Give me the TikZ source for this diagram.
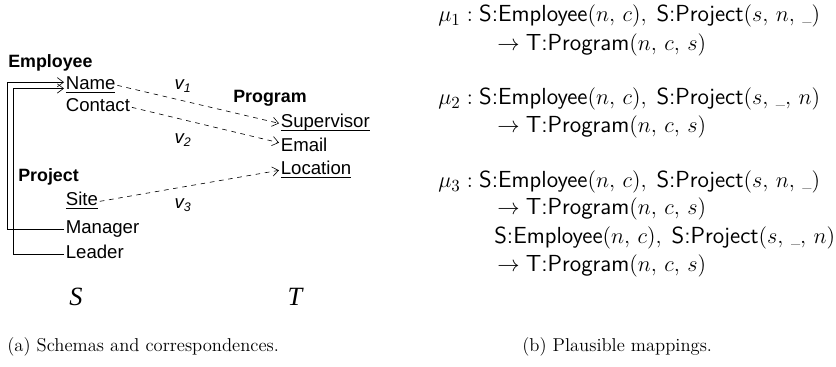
\documentclass[tikz,border=0pt]{standalone}
\usepackage{fontspec}
\usepackage{xcolor}
\usetikzlibrary{arrows.meta}
\newfontfamily\arialfont{Liberation Sans}
\newfontfamily\serifit{Liberation Serif}
\newcommand{\keyattr}[1]{\underline{\smash{#1}}}
\newcommand{\anyval}{\mbox{\scriptsize\_}}

\tikzset{
    attr/.style={font=\arialfont\fontsize{12}{14}\selectfont, inner sep=1pt, text height=9pt, text depth=3pt, anchor=base west},
    rel/.style={font=\arialfont\bfseries\fontsize{11.5}{14}\selectfont, inner sep=0pt, anchor=base west},
    corr/.style={dashed, -{Straight Barb[length=4pt,width=6pt]}},
    fk/.style={-{Straight Barb[length=4pt,width=6pt]}},
    vlab/.style={font=\arialfont\itshape\fontsize{12}{14}\selectfont, inner sep=0pt},
    rule/.style={font=\fontsize{15}{18}\selectfont, inner sep=0pt, text height=10pt, text depth=3pt, anchor=base west},
    subcap/.style={font=\fontsize{12}{14}\selectfont, inner sep=0pt, anchor=base west}
}

\begin{document}
\begin{tikzpicture}[x=0.645pt, y=-0.645pt]
            \useasboundingbox (0,0) rectangle (836,367);
            % source schema
            \node[rel] (emp) at (8,68) {Employee};
            \node[attr] (name) at (64,90) {\keyattr{Name}};
            \node[attr] (contact) at (64,112) {Contact};
            \node[rel] (proj) at (18,182) {Project};
            \node[attr] (site) at (64,206) {\keyattr{Site}};
            \node[attr] (manager) at (64,234) {Manager};
            \node[attr] (leader) at (64,259) {Leader};
            % target schema
            \node[rel] (prog) at (233,103) {Program};
            \node[attr] (sup) at (279,128) {\keyattr{Supervisor}};
            \node[attr] (email) at (279,152) {Email};
            \node[attr] (loc) at (279,175) {\keyattr{Location}};
            % foreign keys
            \draw[fk] (manager.west) -- ++(-57,0) |- ([yshift=2pt]name.west);
            \draw[fk] (leader.west) -- ++(-51,0) |- ([yshift=-2pt]name.west);
            % correspondences
            \draw[corr] (name.east) -- (sup.west);
            \draw[corr] (contact.east) -- ([yshift=3pt]email.west);
            \draw[corr] (site.east) -- (loc.west);
            \node[vlab] (v1) at (183,86) {v\textsubscript{1}};
            \node[vlab] (v2) at (183,140) {v\textsubscript{2}};
            \node[vlab] (v3) at (183,205) {v\textsubscript{3}};
            \node[font=\serifit\itshape\fontsize{17}{20}\selectfont, inner sep=0pt] (s) at (76,297) {S};
            \node[font=\serifit\itshape\fontsize{17}{20}\selectfont, inner sep=0pt] (t) at (295,297) {T};
            % mappings
            \node[rule] (m1a) at (438,22) {$\mu_1 : \textsf{S:Employee}(n,\,c),\; \textsf{S:Project}(s,\,n,\,\anyval)$};
            \node[rule] (m1b) at (497,51) {$\rightarrow \textsf{T:Program}(n,\,c,\,s)$};
            \node[rule] (m2a) at (438,105) {$\mu_2 : \textsf{S:Employee}(n,\,c),\; \textsf{S:Project}(s,\,\anyval,\,n)$};
            \node[rule] (m2b) at (497,133) {$\rightarrow \textsf{T:Program}(n,\,c,\,s)$};
            \node[rule] (m3a) at (438,188) {$\mu_3 : \textsf{S:Employee}(n,\,c),\; \textsf{S:Project}(s,\,n,\,\anyval)$};
            \node[rule] (m3b) at (497,215) {$\rightarrow \textsf{T:Program}(n,\,c,\,s)$};
            \node[rule] (m3c) at (494,244) {$\textsf{S:Employee}(n,\,c),\; \textsf{S:Project}(s,\,\anyval,\,n)$};
            \node[rule] (m3d) at (497,272) {$\rightarrow \textsf{T:Program}(n,\,c,\,s)$};
            % captions
            \node[subcap] (capa) at (7,351) {(a) Schemas and correspondences.};
            \node[subcap] (capb) at (522,351) {(b) Plausible mappings.};
        \end{tikzpicture}
\end{document}
